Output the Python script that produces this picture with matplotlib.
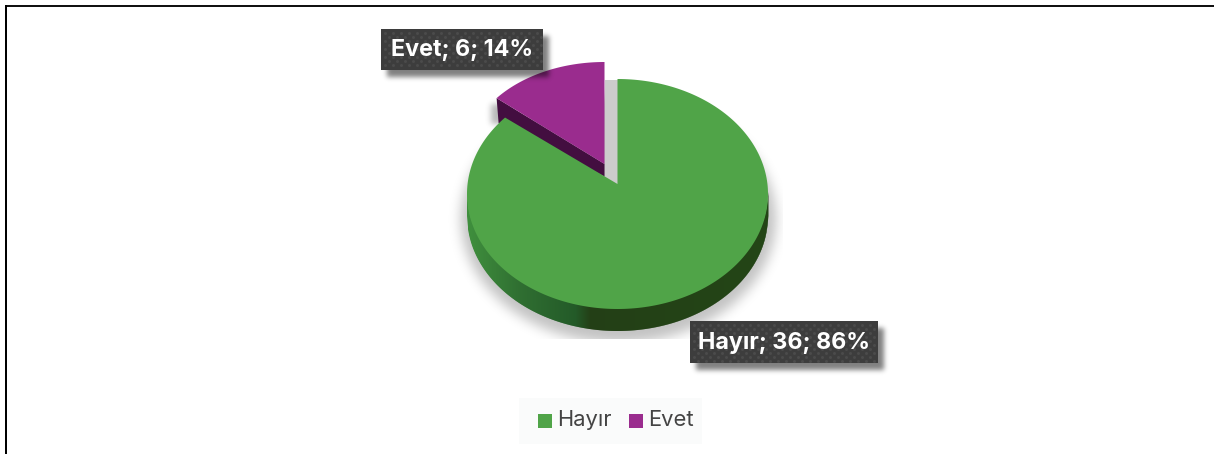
import numpy as np
import matplotlib
matplotlib.use("Agg")
import matplotlib.pyplot as plt
from matplotlib.patches import Polygon, Rectangle
from matplotlib.colors import to_rgb

categories = ["Hayır", "Evet"]
values = [36, 6]
percents = ["86%", "14%"]
colors = ["#50A448", "#9A2C8E"]

W, H = 1214, 454
fig = plt.figure(figsize=(W / 100, H / 100), dpi=100)
ax = fig.add_axes([0, 0, 1, 1])
ax.set_xlim(0, W)
ax.set_ylim(H, 0)
ax.axis("off")
FONT = ["Inter", "DejaVu Sans"]

# outer frame
ax.add_patch(Rectangle((5, 5), W, 1.5, fc="#111111", ec="none", zorder=1))
ax.add_patch(Rectangle((5, 5), 2, H, fc="#000000", ec="none", zorder=1))

sweep = 2 * np.pi * values[1] / sum(values)

# geometry of the perspective pie
GX, GY, GRX, GRY, GAY = 617.5, 194, 150.5, 115, 184   # green ellipse + apex y
PX, PY, PRX, PRY, PAY = 604.5, 158, 138, 96, 164      # purple ellipse + apex y
DEPTH = 22
PERSPECTIVE = 0.94


def arc(cx, cy, rx, ry, a0, a1, n=240):
    t = np.linspace(a0, a1, n)
    return np.c_[cx + rx * np.sin(t), cy - ry * np.cos(t)]


def blur(mask, sigma):
    r = int(3 * sigma)
    k = np.exp(-0.5 * (np.arange(-r, r + 1) / sigma) ** 2)
    k /= k.sum()
    out = np.apply_along_axis(lambda v: np.convolve(v, k, mode="same"), 0, mask)
    return np.apply_along_axis(lambda v: np.convolve(v, k, mode="same"), 1, out)


def shadow_image(mask, sigma, alpha, zorder, x_max=None, y_max=None):
    a = blur(mask.astype(float), sigma) * alpha
    if x_max is not None:
        a[:, x_max:] = 0
    if y_max is not None:
        a[y_max:, :] = 0
    rgba = np.zeros((H, W, 4))
    rgba[..., 3] = a
    ax.imshow(rgba, extent=(0, W, H, 0), zorder=zorder, aspect="auto", interpolation="nearest")


yy, xx = np.mgrid[0:H, 0:W] + 0.5

# soft shadow under pie, cut off flat at the bottom and right
pie_mask = ((xx - (GX + 1)) / (GRX + 7)) ** 2 + ((yy - (GY + DEPTH + 3)) / (GRY + 9)) ** 2 <= 1
shadow_image(pie_mask, 6, 0.24, 2, x_max=783, y_max=339)

# shadow of the pulled-out slice on the chart
slice_mask = (xx > 491) & (xx < 510) & (yy > 104) & (yy < 124)
shadow_image(slice_mask, 3, 0.28, 2)
ax.add_patch(Rectangle((PX, 80), GX - PX, GAY - 80, fc="#cccccc", ec="none", zorder=2.5))

# green wall with horizontal gradient
stops_x = [GX - GRX, 520, 575, 590, GX + GRX]
stops_c = ["#3F8F3D", "#2F6E31", "#235A28", "#233F16", "#234516"]
stops_rgb = np.array([to_rgb(c) for c in stops_c])
xs = np.arange(GX - GRX, GX + GRX, 1.0)
for x in xs:
    tx = np.clip((x - GX) / GRX, -1, 1)
    tx2 = np.clip((x + 1.5 - GX) / GRX, -1, 1)
    y1 = GY + GRY * np.sqrt(1 - tx ** 2)
    y2 = GY + GRY * np.sqrt(1 - tx2 ** 2)
    col = [np.interp(x, stops_x, stops_rgb[:, k]) for k in range(3)]
    ax.add_patch(Polygon([(x, y1 - 2), (x + 1.5, y2 - 2), (x + 1.5, y2 + DEPTH), (x, y1 + DEPTH)],
                         fc=col, ec="none", zorder=3))

# purple wall sits behind the green top
edge = arc(PX, PY, PRX, PRY, -sweep, 0)
corner = edge[0]
ax.add_patch(Polygon([corner, (PX, PAY), (PX, PAY + 12.5),
                      (corner[0] + 2, corner[1] + 25)], fc="#430E40", ec="none", zorder=3.5))

# green top
pts = arc(GX, GY, GRX, GRY, 0, 2 * np.pi - sweep * PERSPECTIVE)
ax.add_patch(Polygon(np.vstack([[GX, GAY], pts]), fc=colors[0], ec="none", zorder=4))

# purple top
ax.add_patch(Polygon(np.vstack([[PX, PAY], edge]), fc=colors[1], ec="none", zorder=6))


# data labels
def label(x0, y0, x1, y1, text):
    m = (xx > x0 + 6) & (xx < x1 + 6) & (yy > y0 + 7) & (yy < y1 + 7)
    shadow_image(m, 2.5, 0.5, 7)
    ax.add_patch(Rectangle((x0, y0), x1 - x0, y1 - y0, fc="#3D3D3D", ec="none", zorder=8))
    for off in (0, 1):
        gx, gy = np.meshgrid(np.arange(x0 + 4 + 4 * off, x1 - 1, 8.0),
                             np.arange(y0 + 4 + 4 * off, y1 - 1, 8.0))
        ax.scatter(gx.ravel(), gy.ravel(), s=4.5, c="#4B4B4B", linewidths=0, zorder=9)
    ax.text((x0 + x1) / 2 + 0.5, (y0 + y1) / 2 + 0.5, text, color="white", fontsize=16.8, fontweight="bold",
            family=FONT, ha="center", va="center", zorder=10)


label(690, 321, 878, 363, f"{categories[0]}; {values[0]}; {percents[0]}")
label(381, 29, 543, 70, f"{categories[1]}; {values[1]}; {percents[1]}")

# legend
ax.add_patch(Rectangle((519, 398), 183, 45.5, fc="#FAFBFB", ec="none", zorder=2))
for name, col, sx in zip(categories, colors, [538, 629]):
    ax.add_patch(Rectangle((sx, 414), 14, 14, fc=col, ec="none", zorder=3))
    ax.text(sx + 19.5, 420, name, color="#444444", fontsize=15.8, family=FONT,
            ha="left", va="center", zorder=3)

ax.set_xlim(0, W)
ax.set_ylim(H, 0)
fig.savefig("out.png", dpi=100)
